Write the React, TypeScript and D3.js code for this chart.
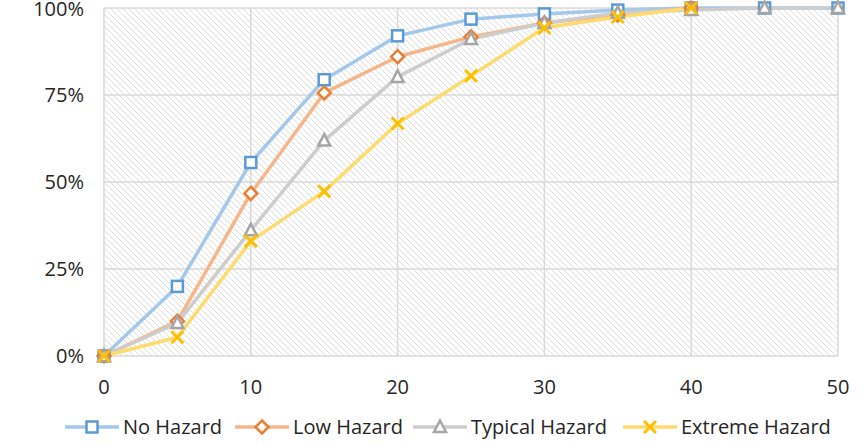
import React from "react";
import * as d3 from "d3";

const xValues = [0, 5, 10, 15, 20, 25, 30, 35, 40, 45, 50];
const noHazard = [0, 0.2, 0.556, 0.794, 0.92, 0.968, 0.983, 0.994, 1, 1, 1];
const lowHazard = [0, 0.1, 0.467, 0.756, 0.86, 0.917, 0.957, 0.98, 1];
const typicalHazard = [0, 0.095, 0.361, 0.619, 0.802, 0.911, 0.957, 0.986, 0.994, 1, 1];
const extremeHazard = [0, 0.054, 0.33, 0.473, 0.668, 0.805, 0.943, 0.974, 1];
const xTicks = [0, 10, 20, 30, 40, 50];
const yTicks = [0, 0.25, 0.5, 0.75, 1];
const seriesNames = ["No Hazard", "Low Hazard", "Typical Hazard", "Extreme Hazard"];

const W = 868, H = 444;
const left = 104, right = 838, top = 8, bottom = 356;
const FONT = "'Open Sans', sans-serif";
const FS = 20;

const seriesStyles = [
  { line: "#a3c8ea", mark: "#5b9bd5", shape: "square" },
  { line: "#f5b68c", mark: "#ed7d31", shape: "diamond" },
  { line: "#cdcdcd", mark: "#a5a5a5", shape: "triangle" },
  { line: "#ffdb6e", mark: "#ffc000", shape: "cross" },
];

function Marker({ shape, x, y, color }: { shape: string; x: number; y: number; color: string }) {
  if (shape === "square")
    return <rect x={x - 5.5} y={y - 5.5} width={11} height={11} fill="#fff" stroke={color} strokeWidth={2.5} />;
  if (shape === "diamond")
    return <path d={`M${x},${y - 6.5}L${x + 6.5},${y}L${x},${y + 6.5}L${x - 6.5},${y}Z`} fill="#fff" stroke={color} strokeWidth={2.5} />;
  if (shape === "triangle")
    return <path d={`M${x},${y - 6.5}L${x + 6},${y + 5}L${x - 6},${y + 5}Z`} fill="#fff" stroke={color} strokeWidth={2.5} />;
  return <path d={`M${x - 6},${y - 6}L${x + 6},${y + 6}M${x + 6},${y - 6}L${x - 6},${y + 6}`} stroke={color} strokeWidth={3} />;
}

export default function App() {
  const x = d3.scaleLinear().domain([0, 50]).range([left, right]);
  const y = d3.scaleLinear().domain([0, 1]).range([bottom, top]);
  const data = [noHazard, lowHazard, typicalHazard, extremeHazard];
  const line = d3.line<number>().x((_, i) => x(xValues[i])).y((d) => y(d));
  const legendX = [92, 262, 440, 650];
  const legendY = 427;
  return (
    <svg width={W} height={H} style={{ position: "absolute", left: 0, top: 0, background: "#fff" }}>
      <defs>
        <pattern id="hatch" patternUnits="userSpaceOnUse" width={6} height={6}>
          <path d="M-1,-1L7,7M-1,5L1,7M5,-1L7,1" stroke="#dedede" strokeWidth={1} />
        </pattern>
      </defs>
      <rect x={left} y={top} width={right - left} height={bottom - top} fill="url(#hatch)" />
      {yTicks.map((t) => (
        <line key={"gy" + t} x1={left} x2={right} y1={y(t)} y2={y(t)} stroke="#d9d9d9" strokeWidth={1.5} />
      ))}
      {xTicks.map((t) => (
        <line key={"gx" + t} x1={x(t)} x2={x(t)} y1={top} y2={bottom} stroke="#d9d9d9" strokeWidth={1.5} />
      ))}
      {yTicks.map((t) => (
        <text key={"ty" + t} x={84} y={y(t) + (t === 1 ? 1 : 0)} dy="0.35em" textAnchor="end" fontFamily={FONT} fontSize={FS} fill="#262626">
          {d3.format(".0%")(t)}
        </text>
      ))}
      {xTicks.map((t) => (
        <text key={"tx" + t} x={x(t)} y={394} textAnchor="middle" fontFamily={FONT} fontSize={FS} fill="#262626">
          {t}
        </text>
      ))}
      {data.map((s, i) => (
        <path key={"l" + i} d={line(s) || ""} fill="none" stroke={seriesStyles[i].line} strokeWidth={3.5} strokeLinejoin="round" />
      ))}
      {data.map((s, i) =>
        s.map((v, j) => (
          <Marker key={`m${i}-${j}`} shape={seriesStyles[i].shape} x={x(xValues[j])} y={y(v)} color={seriesStyles[i].mark} />
        ))
      )}
      {seriesNames.map((n, i) => (
        <g key={"lg" + i}>
          <line x1={legendX[i] - 27} x2={legendX[i] + 27} y1={legendY} y2={legendY} stroke={seriesStyles[i].line} strokeWidth={3.5} />
          <Marker shape={seriesStyles[i].shape} x={legendX[i]} y={legendY} color={seriesStyles[i].mark} />
          <text x={legendX[i] + 31} y={legendY} dy="0.35em" fontFamily={FONT} fontSize={FS} fill="#262626">
            {n}
          </text>
        </g>
      ))}
    </svg>
  );
}
